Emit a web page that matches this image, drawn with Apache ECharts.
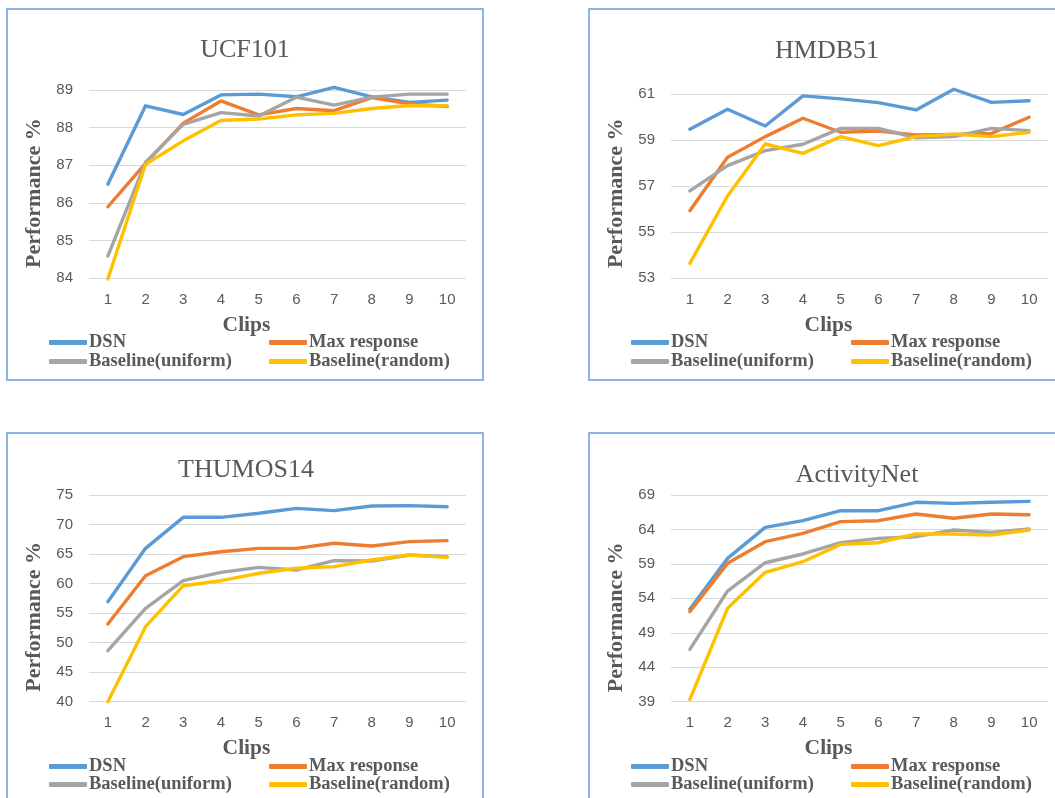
<!DOCTYPE html>
<html><head><meta charset="utf-8">
<script src="https://cdn.jsdelivr.net/npm/echarts@6/dist/echarts.min.js"></script>
<style>
html,body{margin:0;padding:0;background:#fff;width:1055px;height:798px;overflow:hidden;position:relative}
.panel{position:absolute;width:478px;height:373px}
.chart{position:absolute;left:0;top:0;width:478px;height:373px}
.frame{position:absolute;left:0;top:0;width:478px;height:373px;border:2px solid #8DB3E2;box-sizing:border-box;pointer-events:none}
</style></head>
<body>
<div class="panel" style="left:6px;top:8px"><div class="chart" id="c1"></div><div class="frame"></div></div>
<div class="panel" style="left:588px;top:8px"><div class="chart" id="c2"></div><div class="frame"></div></div>
<div class="panel" style="left:6px;top:432px"><div class="chart" id="c3"></div><div class="frame"></div></div>
<div class="panel" style="left:588px;top:432px"><div class="chart" id="c4"></div><div class="frame"></div></div>
<script>
// ---- data ----
const clips = ['1','2','3','4','5','6','7','8','9','10'];
const seriesNames = ['DSN','Max response','Baseline(uniform)','Baseline(random)'];

const ucfDSN     = [86.50, 88.58, 88.35, 88.87, 88.89, 88.82, 89.07, 88.82, 88.67, 88.73];
const ucfMax     = [85.90, 87.05, 88.12, 88.71, 88.34, 88.51, 88.45, 88.80, 88.63, 88.56];
const ucfUniform = [84.59, 87.08, 88.09, 88.40, 88.31, 88.81, 88.60, 88.81, 88.89, 88.89];
const ucfRandom  = [83.98, 87.03, 87.65, 88.19, 88.23, 88.34, 88.38, 88.51, 88.59, 88.58];

const hmdbDSN     = [59.48, 60.35, 59.62, 60.93, 60.80, 60.64, 60.32, 61.22, 60.65, 60.72];
const hmdbMax     = [55.94, 58.26, 59.16, 59.96, 59.35, 59.40, 59.23, 59.25, 59.30, 60.00];
const hmdbUniform = [56.80, 57.90, 58.55, 58.83, 59.52, 59.52, 59.11, 59.16, 59.52, 59.42];
const hmdbRandom  = [53.65, 56.58, 58.84, 58.43, 59.16, 58.77, 59.16, 59.27, 59.16, 59.35];

const thuDSN     = [56.93, 65.97, 71.22, 71.22, 71.90, 72.74, 72.35, 73.14, 73.20, 73.02];
const thuMax     = [53.15, 61.33, 64.56, 65.40, 65.97, 65.97, 66.82, 66.36, 67.10, 67.27];
const thuUniform = [48.63, 55.81, 60.49, 61.90, 62.75, 62.30, 63.88, 63.82, 64.84, 64.55];
const thuRandom  = [40.00, 52.70, 59.64, 60.49, 61.74, 62.59, 62.87, 63.99, 64.84, 64.44];

const actDSN     = [52.40, 59.81, 64.31, 65.27, 66.72, 66.72, 67.94, 67.79, 67.94, 68.08];
const actMax     = [52.06, 59.08, 62.22, 63.44, 65.13, 65.27, 66.24, 65.62, 66.24, 66.14];
const actUniform = [46.60, 55.06, 59.17, 60.44, 62.08, 62.71, 62.95, 63.92, 63.58, 64.07];
const actRandom  = [39.34, 52.55, 57.78, 59.32, 61.84, 62.08, 63.34, 63.34, 63.20, 63.92];

const titles = ['UCF101','HMDB51','THUMOS14','ActivityNet'];
const yTicks = [[84, 89, 1], [53, 61, 2], [40, 75, 5], [39, 69, 5]]; // min, max, interval
const xAxisTitle = 'Clips';
const yAxisTitle = 'Performance %';

// ---- styles / layout ----
const colors = ['#5B9BD5', '#ED7D31', '#A5A5A5', '#FFC000'];
const textGray = '#595959';
const serif = '"Liberation Serif", "Times New Roman", serif';
const sans = '"Liberation Sans", Arial, sans-serif';

const layouts = [
  {titleX: 239, titleY: 42.5, gridTop: 82,   gridH: 188.3, yPad: 18, legRow: [334, 353]},
  {titleX: 239, titleY: 42.7, gridTop: 86.3, gridH: 184,   yPad: 14, legRow: [334, 353]},
  {titleX: 240, titleY: 38.5, gridTop: 63,   gridH: 206.7, yPad: 37, legRow: [334, 352]},
  {titleX: 269, titleY: 43,   gridTop: 63,   gridH: 206.7, yPad: 38, legRow: [334, 352]}
];
const datasets = [
  [ucfDSN, ucfMax, ucfUniform, ucfRandom],
  [hmdbDSN, hmdbMax, hmdbUniform, hmdbRandom],
  [thuDSN, thuMax, thuUniform, thuRandom],
  [actDSN, actMax, actUniform, actRandom]
];

function buildOption(i) {
  const L = layouts[i];
  const legendPos = [[43, 0], [263, 0], [43, 1], [263, 1]];
  return {
    animation: false,
    backgroundColor: 'transparent',
    title: {
      text: titles[i],
      left: L.titleX, top: L.titleY - 13, textAlign: 'center', padding: 0,
      textStyle: {fontFamily: serif, fontSize: 26, fontWeight: 'normal', color: textGray, lineHeight: 26}
    },
    grid: {left: 83, top: L.gridTop, width: 377, height: L.gridH, containLabel: false},
    legend: seriesNames.map((n, k) => ({
      data: [n],
      left: legendPos[k][0], top: L.legRow[legendPos[k][1]] - 9,
      padding: 0, itemWidth: 38, itemHeight: 5, icon: 'roundRect', itemGap: 0,
      selectedMode: false,
      textStyle: {fontFamily: serif, fontSize: 18.5, fontWeight: 'bold', color: textGray, lineHeight: 18, padding: [0, 0, 0, -3]}
    })),
    xAxis: {
      type: 'category', data: clips, boundaryGap: true,
      axisLine: {show: false}, axisTick: {show: false},
      axisLabel: {color: textGray, fontFamily: sans, fontSize: 15, margin: 14, interval: 0},
      name: xAxisTitle, nameLocation: 'middle', nameGap: 36,
      nameTextStyle: {fontFamily: serif, fontSize: 21.5, fontWeight: 'bold', color: textGray, lineHeight: 22, padding: [0, 62, 0, 0]}
    },
    yAxis: {
      type: 'value', min: yTicks[i][0], max: yTicks[i][1], interval: yTicks[i][2],
      axisLine: {show: false}, axisTick: {show: false},
      axisLabel: {color: textGray, fontFamily: sans, fontSize: 15, margin: 16},
      splitLine: {lineStyle: {color: '#D9D9D9', width: 1}},
      name: yAxisTitle, nameLocation: 'middle', nameRotate: 90, nameGap: 42,
      nameTextStyle: {fontFamily: serif, fontSize: 22, fontWeight: 'bold', color: textGray, lineHeight: 22, padding: [0, L.yPad, 0, 0]}
    },
    series: seriesNames.map((n, k) => ({
      name: n, type: 'line', data: datasets[i][k],
      symbol: 'none', smooth: false, clip: false,
      itemStyle: {color: colors[k]},
      lineStyle: {color: colors[k], width: 3.4, cap: 'round', join: 'round'}
    }))
  };
}

['c1','c2','c3','c4'].forEach((id, i) => {
  const chart = echarts.init(document.getElementById(id), null, {renderer: 'canvas'});
  chart.setOption(buildOption(i));
});
</script>
</body></html>
